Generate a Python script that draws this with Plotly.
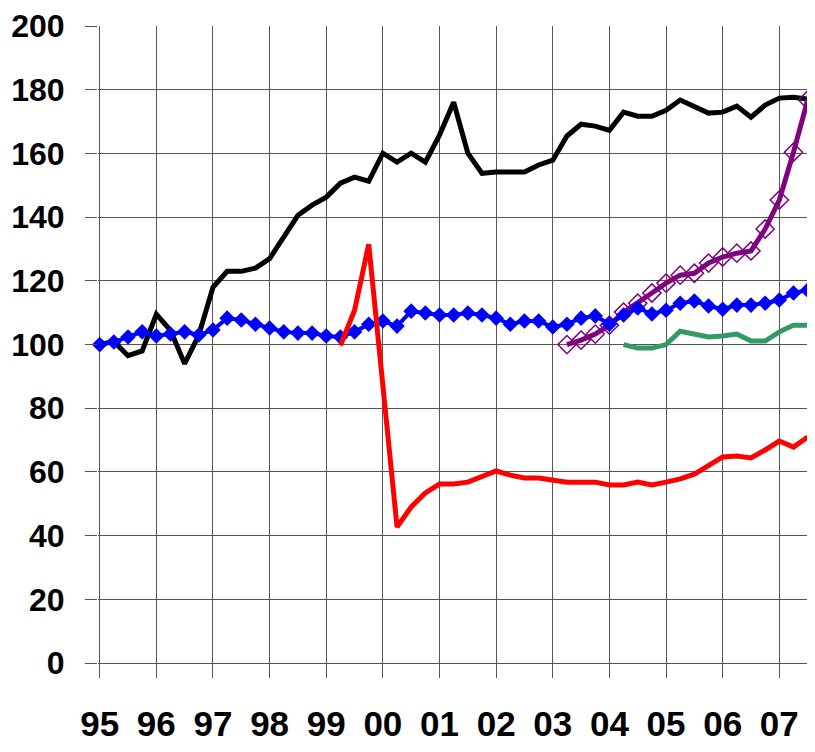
import plotly.graph_objects as go

# quarterly index, first quarter 1995 = index 0
year_start = 95
tick_years = [95, 96, 97, 98, 99, 100, 101, 102, 103, 104, 105, 106, 107]
tick_labels = ["95", "96", "97", "98", "99", "00", "01", "02", "03", "04", "05", "06", "07"]
y_ticks = [0, 20, 40, 60, 80, 100, 120, 140, 160, 180, 200]

black_vals = [100, 101, 96.5, 98, 109.5, 104.5, 94, 103, 118, 123, 123, 124, 127,
              134, 140.6, 143.8, 146.3, 150.7, 152.6, 151.3, 160.1, 157.3, 160.1, 157.3,
              165.8, 176.1, 160.1, 153.8, 154.2, 154.2, 154.2, 156.4, 157.9, 165.5, 169.2,
              168.6, 167.3, 173, 171.7, 171.7, 173.6, 176.8, 174.6, 172.7, 173, 174.9,
              171.4, 175.2, 177.4, 177.7, 177.1]
black_start = 0

blue_vals = [100, 100.8, 102.4, 104, 102.7, 103.3, 104, 103, 104.6, 108.3, 107.7, 106.4,
             105.2, 104, 103.6, 103.6, 102.7, 102.4, 104, 106.4, 107.4, 105.8, 110.5, 109.9,
             109.3, 109.3, 109.9, 109.3, 108.3, 106.4, 107.4, 107.4, 105.5, 106.4, 108.3,
             109, 106.4, 109.3, 111.5, 109.6, 110.8, 113, 113.7, 112.1, 111.1, 112.4, 112.4,
             113, 114, 116.2, 117.1]
blue_start = 0

red_vals = [99.7, 110.8, 131.5, 86.5, 42.7, 49, 53.4, 56.2, 56.2, 56.8, 58.7, 60.3, 59,
            58.1, 58.1, 57.3, 56.8, 56.8, 56.8, 55.9, 55.9, 56.8, 55.9, 56.8, 57.8, 59.3,
            62.2, 64.7, 65, 64.4, 66.9, 69.7, 67.8, 71]
red_start = 17

purple_vals = [100, 101.4, 103.3, 106.1, 110.2, 113, 116.2, 119.3, 121.8, 122.4, 125.6,
               127.5, 128.7, 129.4, 136.3, 145.4, 160.4, 176.8]
purple_start = 33

green_vals = [100, 98.9, 98.9, 100, 104.2, 103.3, 102.4, 102.7, 103.3, 101.1, 101.1, 104,
              106.1, 106.1]
green_start = 37


def xs(start, n):
    return [year_start + (start + i) / 4 for i in range(n)]


fig = go.Figure()
fig.add_trace(go.Scatter(x=xs(black_start, len(black_vals)), y=black_vals, mode="lines",
                         line=dict(color="#000000", width=5), showlegend=False,
                         cliponaxis=False))
fig.add_trace(go.Scatter(x=xs(purple_start, len(purple_vals)), y=purple_vals,
                         mode="lines+markers",
                         line=dict(color="#800080", width=5),
                         marker=dict(symbol="diamond-open", size=14, color="#800080",
                                     line=dict(width=1.5, color="#800080")),
                         showlegend=False, cliponaxis=False))
fig.add_trace(go.Scatter(x=xs(green_start, len(green_vals)), y=green_vals, mode="lines",
                         line=dict(color="#339966", width=5), showlegend=False,
                         cliponaxis=False))
fig.add_trace(go.Scatter(x=xs(blue_start, len(blue_vals)), y=blue_vals,
                         mode="lines+markers",
                         line=dict(color="#0000FF", width=4),
                         marker=dict(symbol="diamond", size=12, color="#0000FF"),
                         showlegend=False, cliponaxis=False))
fig.add_trace(go.Scatter(x=xs(red_start, len(red_vals)), y=red_vals, mode="lines",
                         line=dict(color="#FF0000", width=5), showlegend=False,
                         cliponaxis=False))

# page body has an 8px margin: figure is offset by 8px right and down
fig.update_layout(
    width=807, height=744,
    margin=dict(l=90, r=0, t=18, b=89),
    paper_bgcolor="white", plot_bgcolor="white",
)
fig.update_xaxes(
    range=[94.97, 107.63],
    automargin=False,
    tickmode="array", tickvals=tick_years, ticktext=tick_labels,
    showgrid=True, gridcolor="#555555", gridwidth=1,
    ticks="outside", ticklen=14, tickcolor="#555555", tickwidth=1,
    tickfont=dict(family="Liberation Sans, Arial", size=35, color="#000000", weight="bold"),
    ticklabelstandoff=16,
    zeroline=False, showline=False,
)
fig.update_yaxes(
    range=[0, 200.05],
    automargin=False,
    tickmode="array", tickvals=y_ticks,
    showgrid=True, gridcolor="#555555", gridwidth=1,
    ticks="outside", ticklen=12, tickcolor="#555555", tickwidth=1,
    tickfont=dict(family="Liberation Sans, Arial", size=32, color="#000000", weight="bold"),
    ticklabelstandoff=14,
    zeroline=True, zerolinecolor="#555555", zerolinewidth=1,
    showline=False,
)

fig.write_html("out.html")
